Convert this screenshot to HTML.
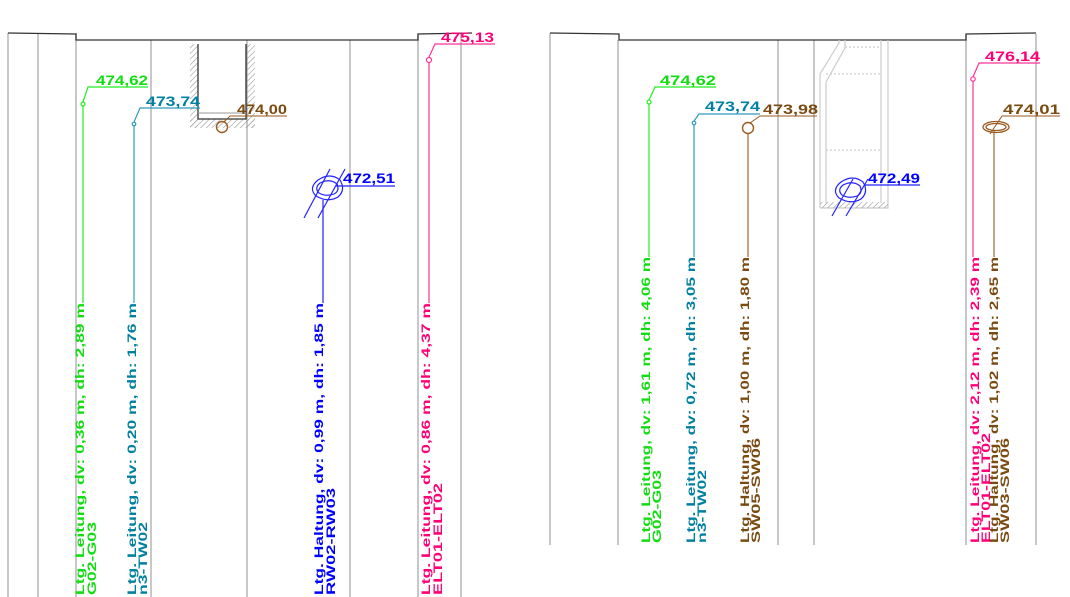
<!DOCTYPE html>
<html><head><meta charset="utf-8"><style>
html,body{margin:0;padding:0;background:#fff;}
svg{display:block;}
text{font-family:"Liberation Sans",sans-serif;font-weight:bold;font-size:12px;}
text.n{font-size:13.5px;}
</style></head><body>
<svg width="1070" height="597" viewBox="0 0 1070 597" xmlns="http://www.w3.org/2000/svg">
<defs>
<pattern id="h" width="4" height="4" patternUnits="userSpaceOnUse" patternTransform="rotate(45)">
<line x1="0" y1="0" x2="0" y2="4" stroke="#999" stroke-width="1.2"/>
</pattern>
</defs>
<!-- LEFT PANEL -->
<g stroke="#aaa" stroke-width="1.3" fill="none">
<line x1="8" y1="33" x2="8" y2="597"/>
<line x1="38" y1="33" x2="38" y2="597"/>
<line x1="76" y1="33" x2="76" y2="597"/>
<line x1="151" y1="40" x2="151" y2="597"/>
<line x1="247" y1="40" x2="247" y2="597"/>
<line x1="350" y1="40" x2="350" y2="597"/>
<line x1="418" y1="34" x2="418" y2="597"/>
<line x1="461" y1="34" x2="461" y2="597"/>
</g>
<polyline points="8,33 76,34 76,40 418,40 418,34 472,33" stroke="#333" stroke-width="1.3" fill="none"/>
<!-- trench -->
<rect x="190" y="44" width="8" height="84" fill="url(#h)"/>
<rect x="246" y="44" width="9" height="84" fill="url(#h)"/>
<rect x="190" y="119" width="65" height="9" fill="url(#h)"/>
<rect x="198" y="113" width="48" height="6" fill="#fff"/>
<polyline points="198,44 198,119 246,119 246,44" stroke="#333" stroke-width="1.3" fill="none"/>
<line x1="198" y1="113" x2="246" y2="113" stroke="#999"/>
<!-- green -->
<g stroke="#22ee22" fill="none" stroke-width="1.2">
<line x1="83" y1="106" x2="83" y2="303"/><circle cx="83" cy="104" r="2"/>
<polyline points="83,102 88,87 148,87"/></g>
<text class="n" x="96" y="85" fill="#11dd11" textLength="52" lengthAdjust="spacingAndGlyphs">474,62</text>
<!-- teal -->
<g stroke="#3399bb" fill="none" stroke-width="1.2">
<line x1="134" y1="125" x2="134" y2="303"/><circle cx="134" cy="124" r="1.8"/>
<polyline points="134,122 140,108 200,108"/></g>
<text class="n" x="146" y="106" fill="#0080a0" textLength="54" lengthAdjust="spacingAndGlyphs">473,74</text>
<!-- brown -->
<g stroke="#9a5a20" fill="none" stroke-width="1.4">
<circle cx="222" cy="127" r="5.5"/><polyline points="224,122 230,116 287,116" stroke-width="1"/></g>
<text class="n" x="237" y="114" fill="#7a4a10" textLength="50" lengthAdjust="spacingAndGlyphs">474,00</text>
<!-- blue -->
<g stroke="#2222ff" fill="none" stroke-width="1.2">
<path d="M318,180 Q330,172 340,180 Q346,190 338,197 Q328,203 316,196 Q308,188 318,180Z"/>
<path d="M320,183 Q330,178 337,184 Q340,191 334,194 Q326,197 319,193 Q314,188 320,183Z"/>
<line x1="330" y1="169" x2="304" y2="218"/><line x1="345" y1="169" x2="318" y2="218"/>
<line x1="323" y1="200" x2="323" y2="303"/>
<line x1="336" y1="186" x2="395" y2="186"/></g>
<text class="n" x="343" y="183" fill="#0000ff" textLength="52" lengthAdjust="spacingAndGlyphs">472,51</text>
<!-- pink -->
<g stroke="#ff3399" fill="none" stroke-width="1.2">
<line x1="429" y1="62" x2="429" y2="303"/><circle cx="429" cy="60" r="2.5"/>
<polyline points="429,57 435,44 495,44"/></g>
<text class="n" x="441" y="42" fill="#ff0077" textLength="53" lengthAdjust="spacingAndGlyphs">475,13</text>
<!-- left labels -->
<g>
<text transform="translate(84,595) rotate(-90)" fill="#11dd11" textLength="292" lengthAdjust="spacingAndGlyphs">Ltg. Leitung, dv: 0,36 m, dh: 2,89 m</text>
<text transform="translate(96,595) rotate(-90)" fill="#11dd11" textLength="73" lengthAdjust="spacingAndGlyphs">G02-G03</text>
<text transform="translate(136,595) rotate(-90)" fill="#0080a0" textLength="292" lengthAdjust="spacingAndGlyphs">Ltg. Leitung, dv: 0,20 m, dh: 1,76 m</text>
<text transform="translate(147,595) rotate(-90)" fill="#0080a0" textLength="73" lengthAdjust="spacingAndGlyphs">n3-TW02</text>
<text transform="translate(323,595) rotate(-90)" fill="#0000ff" textLength="292" lengthAdjust="spacingAndGlyphs">Ltg. Haltung, dv: 0,99 m, dh: 1,85 m</text>
<text transform="translate(335,595) rotate(-90)" fill="#0000ff" textLength="107" lengthAdjust="spacingAndGlyphs">RW02-RW03</text>
<text transform="translate(430,595) rotate(-90)" fill="#ff0077" textLength="292" lengthAdjust="spacingAndGlyphs">Ltg. Leitung, dv: 0,86 m, dh: 4,37 m</text>
<text transform="translate(442,595) rotate(-90)" fill="#ff0077" textLength="112" lengthAdjust="spacingAndGlyphs">ELT01-ELT02</text>
</g>

<!-- RIGHT PANEL -->
<g stroke="#aaa" stroke-width="1.3" fill="none">
<line x1="550" y1="33" x2="550" y2="545"/>
<line x1="618" y1="40" x2="618" y2="545"/>
<line x1="778" y1="40" x2="778" y2="545"/>
<line x1="814" y1="40" x2="814" y2="545"/>
<line x1="966" y1="34" x2="966" y2="545"/>
<line x1="1036" y1="34" x2="1036" y2="545"/>
</g>
<polyline points="550,33 619,34 619,40 966,40 966,34 1036,33" stroke="#333" stroke-width="1.3" fill="none"/>
<!-- shaft -->
<g stroke="#ccc" stroke-width="1.2" fill="none">
<polyline points="820,208 820,74 839,43 839,40"/>
<polyline points="826,203 826,82 845,48 845,40"/>
<polyline points="881,40 881,203"/>
<polyline points="888,40 888,208 820,208"/>
<g stroke-dasharray="2,2"><line x1="845" y1="47" x2="881" y2="47"/><line x1="826" y1="74" x2="881" y2="74"/><line x1="826" y1="150" x2="881" y2="150"/></g>
</g>
<rect x="820" y="202" width="68" height="6" fill="url(#h)"/>
<!-- green -->
<g stroke="#22ee22" fill="none" stroke-width="1.2">
<line x1="649" y1="104" x2="649" y2="257"/><circle cx="649" cy="102" r="2"/>
<polyline points="649,100 655,87 716,87"/></g>
<text class="n" x="660" y="85" fill="#11dd11" textLength="56" lengthAdjust="spacingAndGlyphs">474,62</text>
<!-- teal -->
<g stroke="#3399bb" fill="none" stroke-width="1.2">
<line x1="694" y1="125" x2="694" y2="257"/><circle cx="694" cy="123" r="1.8"/>
<polyline points="694,121 699,114 760,114"/></g>
<text class="n" x="705" y="111" fill="#0080a0" textLength="55" lengthAdjust="spacingAndGlyphs">473,74</text>
<!-- brown -->
<g stroke="#9a5a20" fill="none" stroke-width="1.4">
<circle cx="748" cy="128" r="5.5"/><line x1="748" y1="134" x2="748" y2="257" stroke-width="1.1"/>
<polyline points="750,123 760,116 817,116" stroke-width="1"/></g>
<text class="n" x="763" y="114" fill="#7a4a10" textLength="55" lengthAdjust="spacingAndGlyphs">473,98</text>
<!-- blue -->
<g stroke="#2222ff" fill="none" stroke-width="1.2">
<path d="M841,182 Q853,174 863,182 Q869,192 861,199 Q851,205 839,198 Q831,190 841,182Z"/>
<path d="M843,185 Q853,180 860,186 Q863,193 857,196 Q849,199 842,195 Q837,190 843,185Z"/>
<line x1="853" y1="179" x2="832" y2="216"/><line x1="868" y1="179" x2="846" y2="216"/>
<line x1="865" y1="185" x2="920" y2="185"/></g>
<text class="n" x="868" y="183" fill="#0000ff" textLength="52" lengthAdjust="spacingAndGlyphs">472,49</text>
<!-- pink -->
<g stroke="#ff3399" fill="none" stroke-width="1.2">
<line x1="973" y1="81" x2="973" y2="257"/><circle cx="973" cy="79" r="2.2"/>
<polyline points="973,77 979,63 1040,63"/></g>
<text class="n" x="985" y="61" fill="#ff0077" textLength="55" lengthAdjust="spacingAndGlyphs">476,14</text>
<!-- brown 2 -->
<g stroke="#9a5a20" fill="none" stroke-width="1.3">
<ellipse cx="996" cy="127" rx="13" ry="5.5"/><ellipse cx="996" cy="127" rx="10" ry="3.5"/>
<line x1="994" y1="130" x2="994" y2="257" stroke-width="1.1"/>
<polyline points="990,134 1002,116 1060,116" stroke-width="1"/></g>
<text class="n" x="1003" y="114" fill="#7a4a10" textLength="57" lengthAdjust="spacingAndGlyphs">474,01</text>
<!-- right labels -->
<g>
<text transform="translate(650,543) rotate(-90)" fill="#11dd11" textLength="286" lengthAdjust="spacingAndGlyphs">Ltg. Leitung, dv: 1,61 m, dh: 4,06 m</text>
<text transform="translate(661,543) rotate(-90)" fill="#11dd11" textLength="73" lengthAdjust="spacingAndGlyphs">G02-G03</text>
<text transform="translate(695,543) rotate(-90)" fill="#0080a0" textLength="286" lengthAdjust="spacingAndGlyphs">Ltg. Leitung, dv: 0,72 m, dh: 3,05 m</text>
<text transform="translate(706,543) rotate(-90)" fill="#0080a0" textLength="73" lengthAdjust="spacingAndGlyphs">n3-TW02</text>
<text transform="translate(749,543) rotate(-90)" fill="#7a4a10" textLength="286" lengthAdjust="spacingAndGlyphs">Ltg. Haltung, dv: 1,00 m, dh: 1,80 m</text>
<text transform="translate(760,543) rotate(-90)" fill="#7a4a10" textLength="105" lengthAdjust="spacingAndGlyphs">SW05-SW06</text>
<text transform="translate(998,543) rotate(-90)" fill="#7a4a10" textLength="286" lengthAdjust="spacingAndGlyphs">Ltg. Haltung, dv: 1,02 m, dh: 2,65 m</text>
<text transform="translate(1009,543) rotate(-90)" fill="#7a4a10" textLength="105" lengthAdjust="spacingAndGlyphs">SW03-SW06</text>
<text transform="translate(979,543) rotate(-90)" fill="#ff0077" textLength="286" lengthAdjust="spacingAndGlyphs">Ltg. Leitung, dv: 2,12 m, dh: 2,39 m</text>
<text transform="translate(990,543) rotate(-90)" fill="#ff0077" textLength="110" lengthAdjust="spacingAndGlyphs">ELT01-ELT02</text>
</g>
</svg>
</body></html>
